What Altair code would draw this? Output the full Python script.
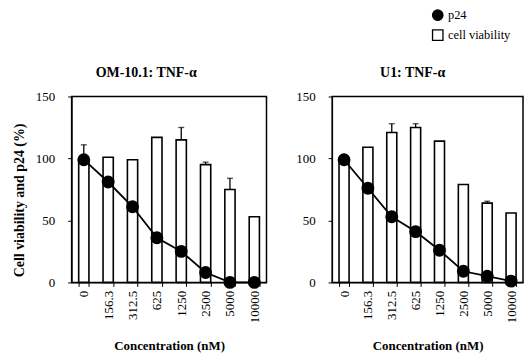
import altair as alt
import pandas as pd

conc = ["0", "156.3", "312.5", "625", "1250", "2500", "5000", "10000"]

om_via = [99, 101, 99, 117, 115, 95, 75, 53]
om_via_err = [12, 0, 0, 0, 10, 2, 9, 0]
om_p24 = [99, 81, 61, 36, 25, 8, 0, 0]

u1_via = [99, 109, 121, 125, 114, 79, 64, 56]
u1_via_err = [0, 0, 7, 3, 0, 0, 1.5, 0]
u1_p24 = [99, 76, 53, 41, 26, 9, 5, 1]

series_names = ["p24", "cell viability"]
series_fill = ["black", "white"]
series_shape = ["circle", "square"]

FONT = "Liberation Serif"

fill_scale = alt.Scale(domain=series_names, range=series_fill)
shape_scale = alt.Scale(domain=series_names, range=series_shape)
leg = alt.Legend(
    title=None,
    orient="none",
    legendX=362,
    legendY=-88,
    labelFont=FONT,
    labelFontSize=12.5,
    labelColor="black",
    symbolSize=110,
    symbolStrokeColor="black",
    symbolStrokeWidth=1.3,
    rowPadding=3,
)


def panel(title, via, err, p24, ytitle, w, dx):
    df = pd.DataFrame({"conc": conc, "via": via, "err": err, "p24": p24})
    df["upper"] = df["via"] + df["err"]
    base = alt.Chart(df)
    x = alt.X(
        "conc:N",
        sort=conc,
        title="Concentration (nM)",
        scale=alt.Scale(paddingInner=0.58, paddingOuter=0.29),
        axis=alt.Axis(labelAngle=270, tickBand="extent", labelPadding=4, titlePadding=17),
    )
    yscale = alt.Scale(domain=[0, 150])
    yaxis = alt.Axis(values=[0, 50, 100, 150], title=ytitle, grid=False, labelPadding=13,
                     titlePadding=9, titleY=104, titleFontSize=14)

    bars = base.transform_calculate(series="'cell viability'").mark_bar(
        stroke="black", strokeWidth=1.6
    ).encode(
        x=x,
        y=alt.Y("via:Q", scale=yscale, axis=yaxis),
        fill=alt.Fill("series:N", scale=fill_scale, legend=leg),
    )
    errs = base.transform_filter("datum.err > 0").mark_rule(color="black", strokeWidth=1.3).encode(
        x=x, y=alt.Y("via:Q", scale=yscale, axis=yaxis), y2="upper:Q"
    )
    caps = base.transform_filter("datum.err > 0").mark_tick(color="black", size=6, thickness=1.3).encode(
        x=x, y=alt.Y("upper:Q", scale=yscale, axis=yaxis)
    )
    line = base.mark_line(color="black", strokeWidth=1.8).encode(
        x=x, y=alt.Y("p24:Q", scale=yscale, axis=yaxis)
    )
    pts = base.transform_calculate(series="'p24'").mark_point(
        filled=True, size=120, stroke="black", opacity=1
    ).encode(
        x=x,
        y=alt.Y("p24:Q", scale=yscale, axis=yaxis),
        fill=alt.Fill("series:N", scale=fill_scale, legend=leg),
        shape=alt.Shape("series:N", scale=shape_scale, legend=leg),
    )
    return alt.layer(bars, errs, caps, line, pts).properties(
        width=w,
        height=187,
        title=alt.TitleParams(title, font=FONT, fontSize=14, fontWeight="bold", anchor="middle",
                              offset=11, dx=dx, color="black"),
    )


left = panel("OM-10.1: TNF-α", om_via, om_via_err, om_p24, "Cell viability and p24 (%)", 196, -23)
right = panel("U1: TNF-α", u1_via, u1_via_err, u1_p24, None, 192, -15)

chart = alt.hconcat(left, right, spacing=27).properties(
    padding={"left": 3, "right": 0, "top": 0, "bottom": 0}
).configure_view(stroke="black", strokeWidth=1.5).configure_axis(
    labelFont=FONT,
    labelFontSize=13,
    labelColor="black",
    titleFont=FONT,
    titleFontSize=13,
    titleFontWeight="bold",
    titleColor="black",
    domainColor="black",
    tickColor="black",
    tickSize=4,
)

chart.save("out.html", embed_options={"renderer": "svg", "actions": False})
